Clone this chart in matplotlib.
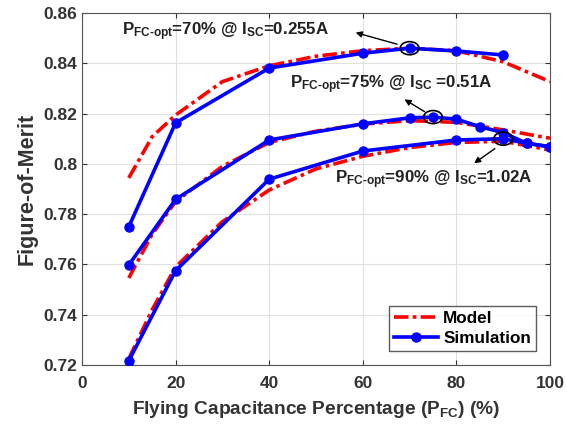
import matplotlib
matplotlib.use('Agg')
import matplotlib.pyplot as plt
from matplotlib.patches import Ellipse
from matplotlib.ticker import FormatStrFormatter

# Figure-of-merit vs flying capacitance percentage
sim1_x = [10, 20, 40, 60, 70, 80, 90]
sim1_y = [0.775, 0.8163, 0.8381, 0.8440, 0.8460, 0.8449, 0.8433]
sim2_x = [10, 20, 40, 60, 70, 75, 80, 85, 90, 95, 100]
sim2_y = [0.7598, 0.7859, 0.8095, 0.8159, 0.8183, 0.8186, 0.8178, 0.8148, 0.8124, 0.8082, 0.8068]
sim3_x = [10, 20, 40, 60, 80, 90, 95, 100]
sim3_y = [0.7217, 0.7575, 0.7939, 0.8051, 0.8095, 0.8100, 0.8082, 0.8068]

mod_x = [10, 15, 20, 30, 40, 50, 60, 70, 80, 90, 100]
mod1_y = [0.7944, 0.8108, 0.8194, 0.8327, 0.8390, 0.8428, 0.8450, 0.8460, 0.8450, 0.8406, 0.8327]
mod2_y = [0.7546, 0.7720, 0.7850, 0.7990, 0.8085, 0.8130, 0.8158, 0.8172, 0.8165, 0.8135, 0.8102]
mod3_y = [0.7225, 0.7420, 0.7590, 0.7770, 0.7896, 0.7980, 0.8030, 0.8065, 0.8085, 0.8090, 0.8055]

opt_x = [70, 75, 90]
opt_y = [0.8460, 0.8186, 0.8100]
labels = [r'P$_{FC\text{-}opt}$=70% @ I$_{SC}$=0.255A',
          r'P$_{FC\text{-}opt}$=75% @ I$_{SC}$ =0.51A',
          r'P$_{FC\text{-}opt}$=90% @ I$_{SC}$=1.02A']

plt.rcParams['font.family'] = 'Liberation Sans'
plt.rcParams['font.weight'] = 'bold'
plt.rcParams['mathtext.fontset'] = 'custom'
plt.rcParams['mathtext.rm'] = 'Liberation Sans:bold'
plt.rcParams['mathtext.it'] = 'Liberation Sans:bold'
plt.rcParams['mathtext.bf'] = 'Liberation Sans:bold'

fig = plt.figure(figsize=(5.66, 4.30), dpi=100)
ax = fig.add_axes([82/566, 65/430, 468/566, 352/430])

dash = (0, (4, 1.2, 1, 1.2))
for i, my in enumerate([mod1_y, mod2_y, mod3_y]):
    ax.plot(mod_x, my, color='#ff0000', lw=2.6, ls=dash, label='Model' if i == 0 else None, zorder=3)
for i, (sx, sy) in enumerate([(sim1_x, sim1_y), (sim2_x, sim2_y), (sim3_x, sim3_y)]):
    ax.plot(sx, sy, color='#0000ff', lw=2.6, marker='o', ms=6.5, label='Simulation' if i == 0 else None, zorder=4)

for x, y in zip(opt_x, opt_y):
    ax.add_patch(Ellipse((x, y), 4.0, 0.0052, fill=False, ec='black', lw=1.2, zorder=5))

arrows = [((57.9, 0.8525), (67.9, 0.8473)),
          ((68.4, 0.8262), (73.7, 0.8202)),
          ((83.3, 0.7996), (88.7, 0.8067))]
for head, tail in arrows:
    ax.annotate('', xy=head, xytext=tail,
                arrowprops=dict(arrowstyle='-|>', color='black', lw=1.0, mutation_scale=9), zorder=6)

ax.text(8.5, 0.8525, labels[0], fontsize=12.2, fontweight='bold', va='center', color='#222222')
ax.text(44.4, 0.8314, labels[1], fontsize=12.2, fontweight='bold', va='center', color='#222222')
ax.text(54.0, 0.7936, labels[2], fontsize=12.2, fontweight='bold', va='center', color='#222222')

ax.set_xlim(0, 100)
ax.set_ylim(0.72, 0.86)
ax.set_xticks(range(0, 101, 20))
ax.set_yticks([0.72, 0.74, 0.76, 0.78, 0.80, 0.82, 0.84, 0.86])
ax.yaxis.set_major_formatter(FormatStrFormatter('%g'))
ax.grid(True, color='#e0e0e0', lw=0.8)
ax.set_axisbelow(True)
ax.tick_params(direction='in', top=True, right=True, labelsize=12.5, colors='#333333', labelcolor='#333333')
ax.tick_params(axis='x', pad=8)
for s in ax.spines.values():
    s.set_color('#555555')

ax.set_xlabel(r'Flying Capacitance Percentage (P$_{FC}$) (%)', fontsize=13.8, fontweight='bold',
              color='#333333', labelpad=6)
ax.set_ylabel('Figure-of-Merit', fontsize=15.5, fontweight='bold', color='#333333')

leg = ax.legend(loc='lower right', fontsize=12.3, frameon=True, fancybox=False, edgecolor='#333333',
                handlelength=2.6, borderpad=0.3, labelspacing=0.3, handletextpad=0.3, borderaxespad=0.8)
leg.get_frame().set_linewidth(1.0)

fig.savefig('out.png', dpi=100)
